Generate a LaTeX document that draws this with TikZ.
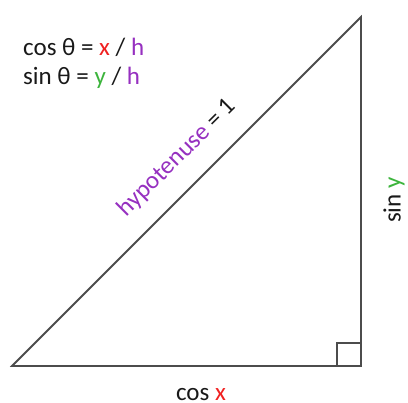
\documentclass[tikz,border=0pt]{standalone}
\usepackage{fontspec}
\setmainfont{Carlito}
\usetikzlibrary{positioning}
\definecolor{xred}{HTML}{F02020}
\definecolor{ygreen}{HTML}{3CB43C}
\definecolor{hpurple}{HTML}{9630C0}
\tikzset{
  side/.style={line width=1.8pt,black!70,line join=miter},
  lbl/.style={font=\fontsize{25}{28}\selectfont,text=black!90,inner sep=0pt}
}

\begin{document}
\begin{tikzpicture}[x=1pt,y=1pt]
\useasboundingbox (0,0) rectangle (408,403);
\coordinate (A) at (12,37);
\coordinate (B) at (361,37);
\coordinate (C) at (361,386);
\draw[side] (A) -- (B) -- (C) -- cycle;
% right angle mark
\draw[side,line width=1.4pt] (B) ++(-24,0) |- ++(24,23);

\node[lbl,anchor=west] (cosdef) at (23,356) {cos θ = \textcolor{xred}{x} / \textcolor{hpurple}{h}};
\node[lbl,anchor=west] (sindef) at (23,325) {sin θ = \textcolor{ygreen}{y} / \textcolor{hpurple}{h}};

\node[lbl,rotate=44.9] (hyp) at (177,245) {\textcolor{hpurple}{hypotenuse} = 1};
\node[lbl,rotate=90] (sinlbl) at (394,203) {sin \textcolor{ygreen}{y}};
\node[lbl] (coslbl) at (201,8) {cos \textcolor{xred}{x}};
\end{tikzpicture}
\end{document}
